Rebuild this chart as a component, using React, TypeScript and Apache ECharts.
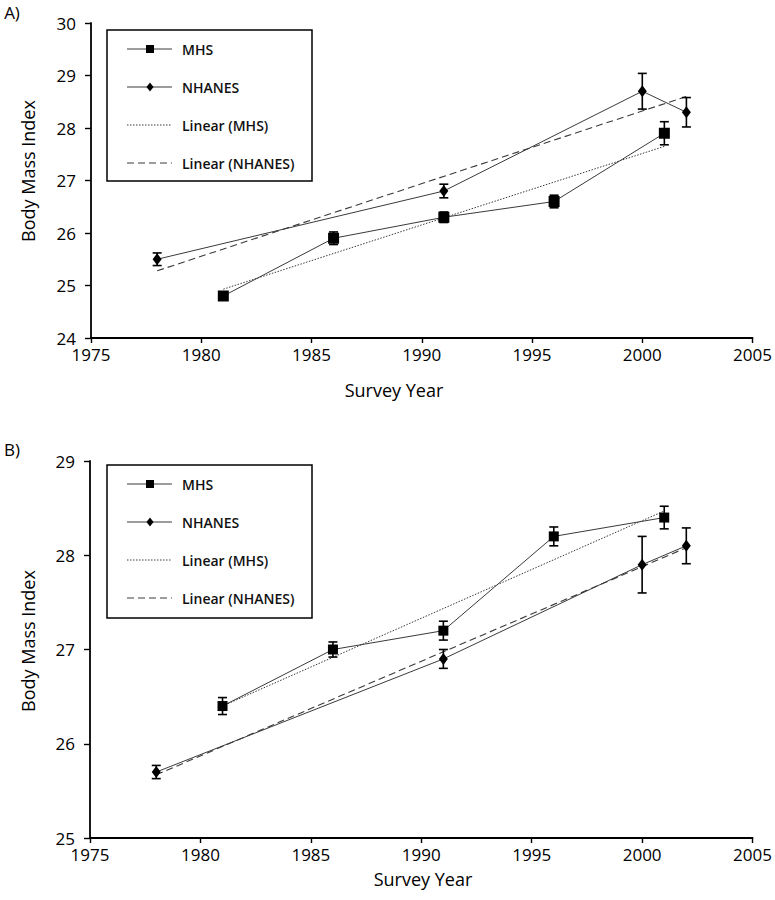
import React, { useEffect, useRef } from "react";
import * as echarts from "echarts";

// ---------- Data ----------
const xTicks = [1975, 1980, 1985, 1990, 1995, 2000, 2005];

// Panel A
const mhsYearsA = [1981, 1986, 1991, 1996, 2001];
const mhsBmiA = [24.8, 25.9, 26.3, 26.6, 27.9];
const mhsErrA = [0.08, 0.12, 0.1, 0.12, 0.22];
const nhanesYearsA = [1978, 1991, 2000, 2002];
const nhanesBmiA = [25.5, 26.8, 28.7, 28.3];
const nhanesErrA = [0.12, 0.13, 0.34, 0.28];
const trendMhsA = [[1981, 24.93], [2001, 27.65]];
const trendNhanesA = [[1978, 25.28], [2002, 28.6]];

// Panel B
const mhsYearsB = [1981, 1986, 1991, 1996, 2001];
const mhsBmiB = [26.4, 27.0, 27.2, 28.2, 28.4];
const mhsErrB = [0.09, 0.08, 0.1, 0.1, 0.12];
const nhanesYearsB = [1978, 1991, 2000, 2002];
const nhanesBmiB = [25.7, 26.9, 27.9, 28.1];
const nhanesErrB = [0.07, 0.1, 0.3, 0.19];
const trendMhsB = [[1981, 26.4], [2001, 28.47]];
const trendNhanesB = [[1978, 25.67], [2002, 28.08]];

const legendNames = ["MHS", "NHANES", "Linear (MHS)", "Linear (NHANES)"];
const panelLabels = ["A)", "B)"];
const xTitle = "Survey Year";
const yTitle = "Body Mass Index";

const FONT = "'Open Sans', 'Liberation Sans', sans-serif";
const LINE_COLOR = "#3a3a3a";

const zip = (xs: number[], ys: number[]) => xs.map((x, i) => [x, ys[i]]);
const zip3 = (xs: number[], ys: number[], es: number[]) =>
  xs.map((x, i) => [x, ys[i], es[i]]);

function errorBarSeries(gridIndex: number, data: number[][]) {
  return {
    type: "custom",
    xAxisIndex: gridIndex,
    yAxisIndex: gridIndex,
    data,
    encode: { x: 0, y: 1 },
    z: 3,
    silent: true,
    renderItem: (params: any, api: any) => {
      const x = api.value(0);
      const y = api.value(1);
      const e = api.value(2);
      const lo = api.coord([x, y - e]);
      const hi = api.coord([x, y + e]);
      const w = 4.5;
      const st = { stroke: "#000", lineWidth: 1.6 };
      return {
        type: "group",
        children: [
          { type: "line", shape: { x1: lo[0], y1: lo[1], x2: hi[0], y2: hi[1] }, style: st },
          { type: "line", shape: { x1: lo[0] - w, y1: lo[1], x2: lo[0] + w, y2: lo[1] }, style: st },
          { type: "line", shape: { x1: hi[0] - w, y1: hi[1], x2: hi[0] + w, y2: hi[1] }, style: st },
        ],
      };
    },
  };
}

function panelSeries(
  gi: number,
  mhs: number[][],
  nhanes: number[][],
  tMhs: number[][],
  tNh: number[][],
  eMhs: number[][],
  eNh: number[][],
  mhsSize: number
) {
  return [
    {
      name: legendNames[2],
      type: "line",
      xAxisIndex: gi,
      yAxisIndex: gi,
      data: tMhs,
      symbol: "none",
      z: 2,
      lineStyle: { color: LINE_COLOR, width: 1, type: [1.5, 1.5] },
    },
    {
      name: legendNames[3],
      type: "line",
      xAxisIndex: gi,
      yAxisIndex: gi,
      data: tNh,
      symbol: "none",
      z: 2,
      lineStyle: { color: LINE_COLOR, width: 1.1, type: [7, 4] },
    },
    errorBarSeries(gi, eMhs),
    errorBarSeries(gi, eNh),
    {
      name: legendNames[0],
      type: "line",
      xAxisIndex: gi,
      yAxisIndex: gi,
      data: mhs,
      symbol: "rect",
      symbolSize: mhsSize,
      z: 4,
      lineStyle: { color: LINE_COLOR, width: 1 },
      itemStyle: { color: "#000" },
    },
    {
      name: legendNames[1],
      type: "line",
      xAxisIndex: gi,
      yAxisIndex: gi,
      data: nhanes,
      symbol: "diamond",
      symbolSize: [9, 12],
      z: 4,
      lineStyle: { color: LINE_COLOR, width: 1 },
      itemStyle: { color: "#000" },
    },
  ];
}

function legendGraphic(left: number, top: number, width: number, height: number, rows: number[]) {
  const lx1 = left + 20;
  const lx2 = left + 65;
  const mx = left + 43;
  const tx = left + 75;
  const children: any[] = [
    {
      type: "rect",
      shape: { x: left, y: top, width, height },
      style: { fill: "#fff", stroke: "#000", lineWidth: 1.5 },
    },
  ];
  const dashes: any[] = [null, null, [1.5, 1.5], [7, 4]];
  legendNames.forEach((name, i) => {
    const y = top + rows[i];
    children.push({
      type: "line",
      shape: { x1: lx1, y1: y, x2: lx2, y2: y },
      style: { stroke: LINE_COLOR, lineWidth: 1, lineDash: dashes[i] || undefined },
    });
    if (i === 0) {
      children.push({
        type: "rect",
        shape: { x: mx - 4, y: y - 4, width: 8, height: 8 },
        style: { fill: "#000" },
      });
    }
    if (i === 1) {
      children.push({
        type: "polygon",
        shape: { points: [[mx, y - 4.5], [mx + 3.5, y], [mx, y + 4.5], [mx - 3.5, y]] },
        style: { fill: "#000" },
      });
    }
    children.push({
      type: "text",
      x: tx,
      y: y,
      style: {
        text: name,
        fontSize: 14,
        fontWeight: 600,
        fontFamily: FONT,
        fill: "#111",
        textAlign: "left",
        textVerticalAlign: "middle",
        align: "left",
        verticalAlign: "middle",
      },
    });
  });
  return { type: "group", z: 10, children };
}

function textEl(text: string, x: number, y: number, size: number, rotation = 0) {
  return {
    type: "text",
    x,
    y,
    rotation,
    z: 10,
    style: {
      text,
      fontSize: size,
      fontFamily: FONT,
      fill: "#000",
      textAlign: "center",
      textVerticalAlign: "middle",
      align: "center",
      verticalAlign: "middle",
    },
  };
}

export default function App() {
  const ref = useRef<HTMLDivElement>(null);

  useEffect(() => {
    document.body.style.margin = "0";
    if (!ref.current) return;
    const chart = echarts.init(ref.current, null, { renderer: "svg" });

    const grids = [
      { left: 91, top: 23, width: 664, height: 315 },
      { left: 90, top: 461, width: 664, height: 377 },
    ];
    const yRanges = [
      [24, 30],
      [25, 29],
    ];

    const xAxis = grids.map((_, i) => ({
      type: "value",
      gridIndex: i,
      min: xTicks[0],
      max: xTicks[xTicks.length - 1],
      interval: 5,
      axisLine: { show: true, lineStyle: { color: "#000", width: 1.8 } },
      axisTick: { show: true, inside: false, length: 5, lineStyle: { color: "#000", width: 1.4 } },
      axisLabel: {
        color: "#000",
        fontSize: 17,
        fontFamily: FONT,
        margin: 8,
        formatter: (v: number) => String(v),
      },
      splitLine: { show: false },
    }));
    const yAxis = grids.map((_, i) => ({
      type: "value",
      gridIndex: i,
      min: yRanges[i][0],
      max: yRanges[i][1],
      interval: 1,
      axisLine: { show: true, lineStyle: { color: "#000", width: 1.8 } },
      axisTick: { show: true, inside: false, length: 6, lineStyle: { color: "#000", width: 1.4 } },
      axisLabel: {
        color: "#000",
        fontSize: 17,
        fontFamily: FONT,
        margin: 15,
        formatter: (v: number) => String(v),
      },
      splitLine: { show: false },
    }));

    const series = [
      ...panelSeries(
        0,
        zip(mhsYearsA, mhsBmiA),
        zip(nhanesYearsA, nhanesBmiA),
        trendMhsA,
        trendNhanesA,
        zip3(mhsYearsA, mhsBmiA, mhsErrA),
        zip3(nhanesYearsA, nhanesBmiA, nhanesErrA),
        11
      ),
      ...panelSeries(
        1,
        zip(mhsYearsB, mhsBmiB),
        zip(nhanesYearsB, nhanesBmiB),
        trendMhsB,
        trendNhanesB,
        zip3(mhsYearsB, mhsBmiB, mhsErrB),
        zip3(nhanesYearsB, nhanesBmiB, nhanesErrB),
        10
      ),
    ];

    chart.setOption({
      animation: false,
      backgroundColor: "#fff",
      grid: grids,
      xAxis,
      yAxis,
      series,
      graphic: [
        textEl(panelLabels[0], 12, 12, 17),
        textEl(panelLabels[1], 12, 449, 17),
        textEl(yTitle, 28, 171, 18, Math.PI / 2),
        textEl(yTitle, 28, 641, 18, Math.PI / 2),
        textEl(xTitle, 394, 390, 18),
        textEl(xTitle, 423, 879, 18),
        legendGraphic(107, 30, 205, 151, [19, 57, 95, 133]),
        legendGraphic(107, 465, 205, 153, [19, 57, 95, 133]),
      ],
    });

    return () => {
      chart.dispose();
    };
  }, []);

  return <div ref={ref} style={{ width: 775, height: 900 }} />;
}
